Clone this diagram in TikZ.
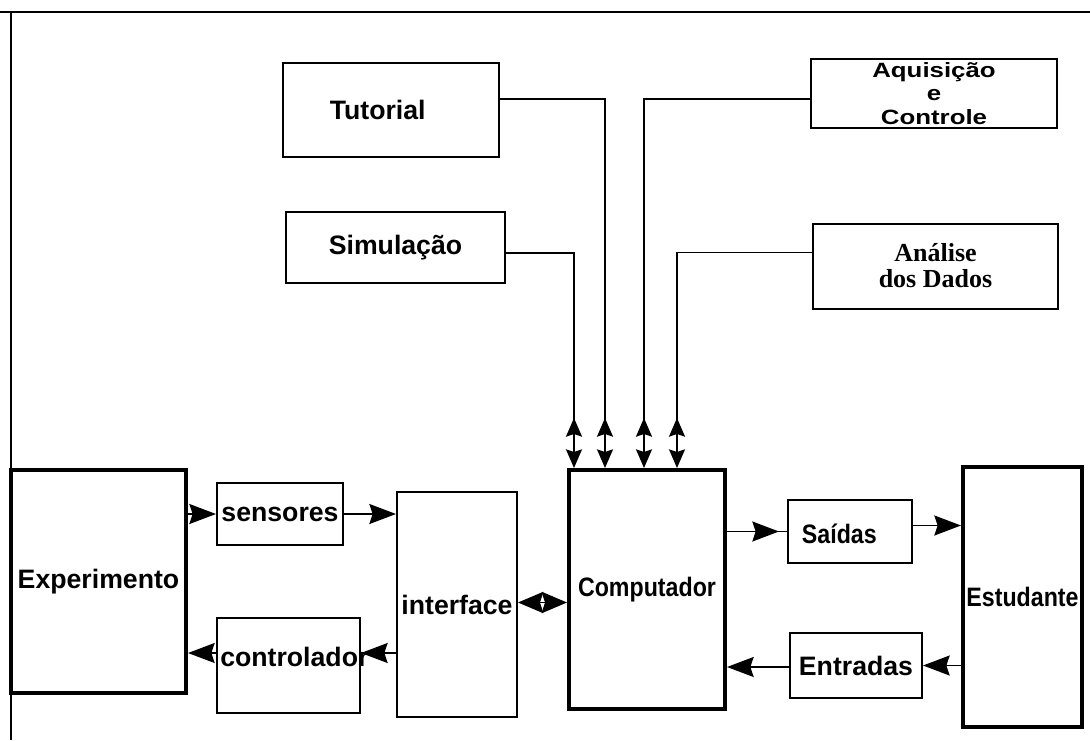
\documentclass[tikz,border=0pt]{standalone}
\usepackage{fontspec}
\setmainfont{Liberation Sans}
\newfontfamily\serifbold{Liberation Serif}
\newfontfamily\narrowf[FakeStretch=0.87]{Liberation Sans}
\newfontfamily\widef[FakeStretch=1.25]{Liberation Sans}
\usetikzlibrary{arrows.meta,calc,decorations.markings}
\newlength\upx
\setlength\upx{0.75pt}
\tikzset{
  hb/.tip={Stealth[length=20pt,width=15pt,inset=2.5pt]},
  vb/.tip={Stealth[length=14pt,width=12pt,inset=2pt]},
}
\begin{document}
\begin{tikzpicture}[x=0.75pt,y=-0.75pt,
  lbl/.style={font=\fontsize{20}{15}\selectfont\bfseries, inner sep=0pt},
  box/.style={draw, line width=1.5pt, inner sep=0pt, align=center,
    font=\fontsize{20}{15}\selectfont\bfseries},
  bigbox/.style={box, line width=3pt},
  narrowtext/.style={font=\fontsize{20}{15}\selectfont\narrowf\bfseries},
  rect/.style 2 args={minimum width=#1\upx, minimum height=#2\upx},
  conn/.style={line width=1.2pt},
  uptip/.style={postaction={decorate}, decoration={markings,
    mark=at position -37.5pt with {\arrowreversed{vb}}}},
  midtip/.style={postaction={decorate}, decoration={markings,
    mark=at position -6pt with {\arrow{hb}}}},
]
\useasboundingbox (0,0) rectangle (1090,740);
% frame
\draw[line width=2.2pt] (0,12) -- (1090,12);
\draw[line width=1.6pt] (11,12) -- (11,740);

% upper boxes
\node[box, rect={216}{94}, label={[lbl, xshift=-10pt]center:Tutorial}] (tut) at (391,110) {};
\node[box, rect={219}{71}] (sim) at (395.5,247.5) {Simulação};
\node[box, rect={246}{69}, font=\fontsize{15.5}{17.5}\selectfont\widef\bfseries] (aq) at (934,93.5) {Aquisição\\e\\Controle};
\node[box, rect={245}{85}, font=\fontsize{19.5}{19.5}\selectfont\serifbold\bfseries] (an) at (935.5,266) {Análise\\dos Dados};

% lower boxes
\node[bigbox, rect={175}{223}] (exp) at (98.5,581.5) {Experimento};
\node[box, rect={126}{62}] (sens) at (280,514) {sensores};
\node[box, rect={143}{95}, label={[lbl, anchor=west, label distance=0pt, xshift=3pt, yshift=6.4pt]west:controlador}] (ctrl) at (288.5,665.5) {};
\node[box, rect={120}{225}] (intf) at (457,604.5) {interface};
\node[bigbox, rect={156}{239}, narrowtext] (comp) at (647,589.5) {Computador};
\node[box, rect={124}{63}, label={[lbl, narrowtext, xshift=-8pt, yshift=-2pt]center:Saídas}] (sai) at (850,531.5) {};
\node[box, rect={132}{65}] (ent) at (856,665.5) {Entradas};
\node[bigbox, rect={119}{260}, narrowtext] (est) at (1022.5,597) {Estudante};

% vertical connectors into Computador
\draw[conn, -{vb}, uptip] ($(sim.east)+(0,5.5)$) -| ($(comp.north west)+(7,0)$);
\draw[conn, -{vb}, uptip] ($(tut.east)+(0,-11)$) -| ($(comp.north west)+(38,0)$);
\draw[conn, -{vb}, uptip] ($(aq.west)+(0,5.5)$) -| ($(comp.north west)+(77,0)$);
\draw[conn, -{vb}, uptip] ($(an.west)+(0,-13.5)$) -| ($(comp.north west)+(110,0)$);

% left side
\draw[conn, -{hb}] (exp.east |- sens.west) -- (sens.west);
\draw[conn, -{hb}] (sens.east) -- (sens.east -| intf.west);
\coordinate (ctrlin) at ($(ctrl.east)+(0,-12.5)$);
\draw[conn, -{hb}] (intf.west |- ctrlin) -- (ctrlin);
\draw[conn, -{hb}] (ctrl.west |- ctrlin) -- (exp.east |- ctrlin);
\draw[conn, {Stealth[length=19pt,width=16pt,inset=2.5pt]}-{Stealth[length=19pt,width=16pt,inset=2.5pt]}] ($(intf.east)+(0,-2)$) -- ($(intf.east -| comp.west)+(0,-2)$);

% right side
\draw[conn, midtip] (comp.east |- sai.west) -- (sai.west);
\draw[conn, -{hb}] ($(sai.east)+(0,-6)$) -- ($(sai.east -| est.west)+(0,-6)$);
\draw[conn, -{hb}] (est.west |- ent.east) -- (ent.east);
\draw[conn, -{hb}] ($(ent.west)+(0,1.5)$) -- ($(ent.west -| comp.east)+(0,1.5)$);
\end{tikzpicture}
\end{document}
